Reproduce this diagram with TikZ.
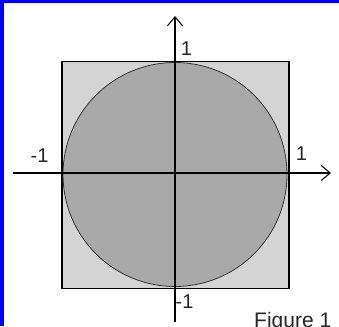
\documentclass[tikz,border=0pt]{standalone}
\usepackage{fontspec}
\setmainfont{Liberation Sans}
\usetikzlibrary{arrows.meta}
\definecolor{squaregray}{RGB}{212,212,212}
\definecolor{circlegray}{RGB}{169,169,169}
\definecolor{frameblue}{RGB}{0,0,255}

\begin{document}
\begin{tikzpicture}[
    x=1pt, y=-1pt,
    tick/.style={
        inner sep=0pt,
        text=black!85,
        font=\fontsize{20}{24}\selectfont
    },
    axis/.style={line width=2.6pt, -{Straight Barb[length=9pt,width=15pt,line width=1pt]}}
]
\useasboundingbox (0,0) rectangle (339,326);
\clip (0,0) rectangle (339,326);

% Frame
\fill[frameblue] (0,0) rectangle (4,326);
\fill[frameblue] (0,0) rectangle (339,3);

% Nodes
\node (square) [draw, line width=1.3pt, fill=squaregray, minimum size=227pt, inner sep=0pt] at (175.5,175) {};
\node (disc) [draw, circle, line width=0.8pt, draw=black!80, fill=circlegray, minimum size=224pt, inner sep=0pt] at (175,174.5) {};

% Axes
\coordinate (xmin) at (13,173);
\coordinate (xmax) at (331,173);
\coordinate (ymin) at (175,322);
\coordinate (ymax) at (175,16);
\draw[axis] (xmin) -- (xmax);
\draw[axis] (ymin) -- (ymax);

% Labels
\node (ytop) [tick] at (186.5,48.5) {1};
\node (xright) [tick] at (301.5,153.5) {1};
\node (xleft) [tick] at (39.5,156) {-1};
\node (ybottom) [tick] at (184.5,302) {-1};
\node (caption) [tick, font=\fontsize{21}{25}\selectfont, anchor=north west] at (254,312) {Figure 1};

\end{tikzpicture}
\end{document}
